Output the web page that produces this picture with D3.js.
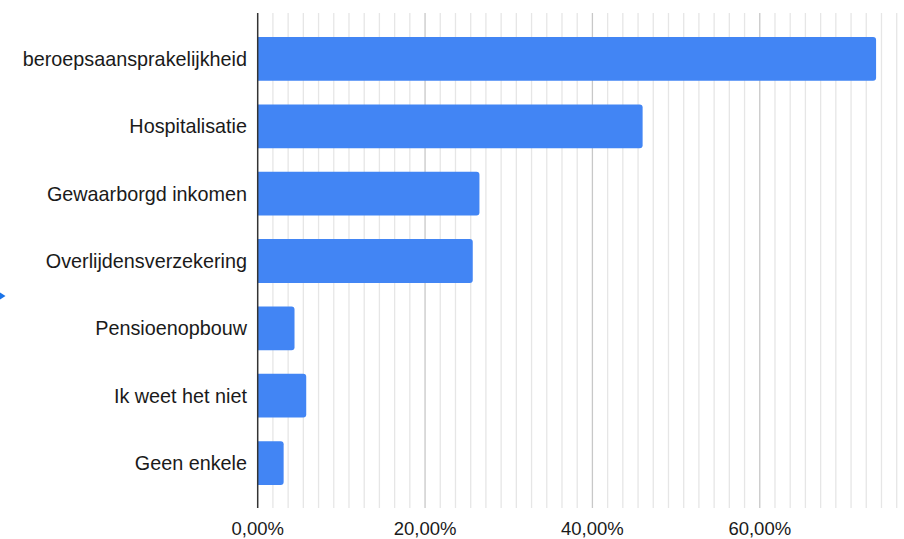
<!DOCTYPE html>
<html>
<head>
<meta charset="utf-8">
<script src="https://cdn.jsdelivr.net/npm/d3@7"></script>
<style>
  html, body { margin: 0; padding: 0; background: #fff; }
  text { font-family: "Liberation Sans", Arial, sans-serif; fill: #1a1a1a; }
</style>
</head>
<body>
<svg id="chart" width="904" height="539"></svg>
<script>
// categories and their share (percent)
const categories = [
  "beroepsaansprakelijkheid",
  "Hospitalisatie",
  "Gewaarborgd inkomen",
  "Overlijdensverzekering",
  "Pensioenopbouw",
  "Ik weet het niet",
  "Geen enkele",
];
const values = [73.9, 46.0, 26.5, 25.7, 4.4, 5.8, 3.1];
const majorTicks = [0, 20, 40, 60];
const tickLabels = ["0,00%", "20,00%", "40,00%", "60,00%"];

const svg = d3.select("#chart");
const plotTop = 13; // gridlines top
const plotBottom = 508; // gridlines bottom

// x scale: 0% sits on the axis line, chart area runs to the right edge
const x = d3.scaleLinear().domain([0, 76.4]).range([257.7, 897]);

// y scale for the bars
const y = d3
  .scaleBand()
  .domain(categories)
  .range([25.3, 496.7])
  .paddingInner(0.35)
  .paddingOuter(0.175);

// minor gridlines: ten between each pair of majors
const minorTicks = [];
for (let m = 0; m < 11 * 5; m++) {
  const v = (m * 20) / 11;
  if (m % 11 !== 0 && v <= 76.4) minorTicks.push(v);
}

svg
  .append("g")
  .selectAll("line")
  .data(minorTicks)
  .join("line")
  .attr("x1", (d) => x(d))
  .attr("x2", (d) => x(d))
  .attr("y1", plotTop)
  .attr("y2", plotBottom)
  .attr("stroke", "#e6e6e6")
  .attr("stroke-width", 1.3);

svg
  .append("g")
  .selectAll("line")
  .data(majorTicks.slice(1))
  .join("line")
  .attr("x1", (d) => x(d))
  .attr("x2", (d) => x(d))
  .attr("y1", plotTop)
  .attr("y2", plotBottom)
  .attr("stroke", "#c8c8c8")
  .attr("stroke-width", 1.3);

// bars: square on the left, rounded on the right
const r = 3;
svg
  .append("g")
  .selectAll("path")
  .data(categories)
  .join("path")
  .attr("fill", "#4285f4")
  .attr("d", (d, i) => {
    const x0 = x(0);
    const x1 = x(values[i]);
    const y0 = y(d);
    const y1 = y0 + y.bandwidth();
    return (
      "M" + x0 + "," + y0 +
      "H" + (x1 - r) +
      "Q" + x1 + "," + y0 + " " + x1 + "," + (y0 + r) +
      "V" + (y1 - r) +
      "Q" + x1 + "," + y1 + " " + (x1 - r) + "," + y1 +
      "H" + x0 + "Z"
    );
  });

// zero axis line
svg
  .append("line")
  .attr("x1", x(0))
  .attr("x2", x(0))
  .attr("y1", plotTop)
  .attr("y2", plotBottom)
  .attr("stroke", "#333")
  .attr("stroke-width", 1.5);

// category labels
svg
  .append("g")
  .selectAll("text")
  .data(categories)
  .join("text")
  .attr("x", 247)
  .attr("y", (d) => y(d) + y.bandwidth() / 2)
  .attr("dy", "0.35em")
  .attr("text-anchor", "end")
  .attr("font-size", "19.8px")
  .text((d) => d);

// tick labels
svg
  .append("g")
  .selectAll("text")
  .data(majorTicks)
  .join("text")
  .attr("x", (d) => x(d))
  .attr("y", 535)
  .attr("text-anchor", "middle")
  .attr("font-size", "18.5px")
  .text((d, i) => tickLabels[i]);

// small blue marker on the left edge
svg
  .append("path")
  .attr("d", "M0,292.5L5.5,296L0,299.5Z")
  .attr("fill", "#1a73e8");
</script>
</body>
</html>
